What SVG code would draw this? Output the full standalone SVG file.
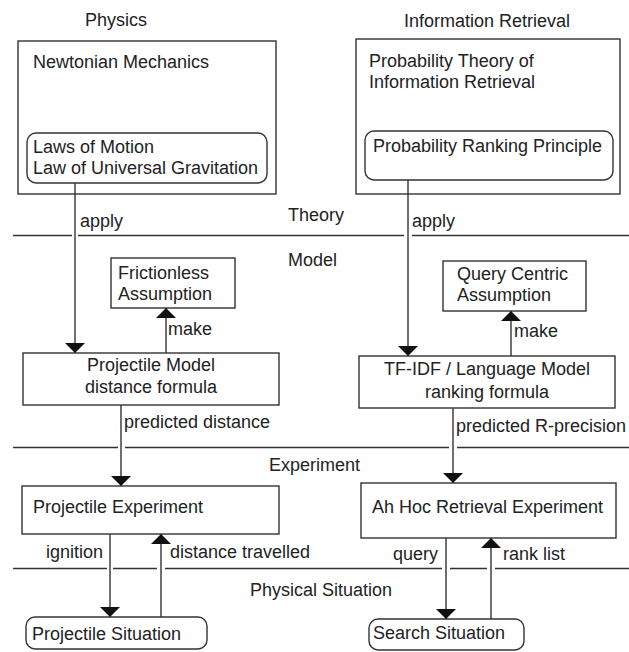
<svg xmlns="http://www.w3.org/2000/svg" width="629" height="652" viewBox="0 0 629 652">
<defs>
<style>
text{font-family:"Liberation Sans",Arial,sans-serif;font-size:18px;fill:#222}
.box{fill:#fff;stroke:#333;stroke-width:1.4}
.ln{fill:none;stroke:#333;stroke-width:1.4}
.sep{fill:none;stroke:#333;stroke-width:1.3}
.mid{text-anchor:middle}
</style>
<marker id="ah" viewBox="0 0 10 20" refX="10" refY="10" markerWidth="10" markerHeight="20" markerUnits="userSpaceOnUse" orient="auto">
<path d="M0,0 L10,10 L0,20 z" fill="#111"/>
</marker>
</defs>
<rect width="629" height="652" fill="#fff"/>

<g id="section-labels">
<text x="85" y="26">Physics</text>
<text x="404" y="27">Information Retrieval</text>
<text x="288" y="221">Theory</text>
<text x="288" y="266">Model</text>
<text x="269" y="471">Experiment</text>
<text x="250" y="596">Physical Situation</text>
</g>

<g id="separators">
<path class="sep" d="M13,235.5 H72 M78,235.5 H404 M412,235.5 H629"/>
<path class="sep" d="M13,447.5 H118 M125,447.5 H449 M457,447.5 H629"/>
<path class="sep" d="M13,568.5 H107 M113,568.5 H157 M165,568.5 H442 M450,568.5 H487 M495,568.5 H629"/>
</g>

<g id="newtonian">
<rect class="box" x="18" y="41" width="258" height="153"/>
<text x="33" y="68">Newtonian Mechanics</text>
</g>
<g id="laws">
<rect class="box" x="27" y="133" width="240" height="50" rx="9"/>
<text x="33" y="153">Laws of Motion</text>
<text x="33" y="174">Law of Universal Gravitation</text>
</g>

<g id="prob-theory">
<rect class="box" x="356" y="39" width="264" height="155"/>
<text x="369" y="67">Probability Theory of</text>
<text x="369" y="88">Information Retrieval</text>
</g>
<g id="prp">
<rect class="box" x="365" y="131" width="248" height="49" rx="9"/>
<text x="373" y="152">Probability Ranking Principle</text>
</g>

<g id="frictionless">
<rect class="box" x="111" y="258" width="124" height="50"/>
<text x="118" y="279">Frictionless</text>
<text x="118" y="300">Assumption</text>
</g>
<g id="projectile-model">
<rect class="box" x="23" y="353" width="256" height="52"/>
<text class="mid" x="151" y="371">Projectile Model</text>
<text class="mid" x="151" y="393">distance formula</text>
</g>

<g id="query-centric">
<rect class="box" x="443" y="261" width="143" height="50"/>
<text x="457" y="280">Query Centric</text>
<text x="457" y="301">Assumption</text>
</g>
<g id="tfidf">
<rect class="box" x="359" y="356" width="256" height="52"/>
<text class="mid" x="487" y="375">TF-IDF / Language Model</text>
<text class="mid" x="487" y="398">ranking formula</text>
</g>

<g id="projectile-experiment">
<rect class="box" x="22" y="486" width="257" height="48"/>
<text x="33" y="513">Projectile Experiment</text>
</g>
<g id="adhoc-experiment">
<rect class="box" x="361" y="483" width="255" height="55"/>
<text x="372" y="513">Ah Hoc Retrieval Experiment</text>
</g>

<g id="projectile-situation">
<rect class="box" x="26" y="617" width="181" height="32" rx="9"/>
<text x="32" y="640">Projectile Situation</text>
</g>
<g id="search-situation">
<rect class="box" x="369" y="619" width="155" height="31" rx="9"/>
<text x="373" y="639">Search Situation</text>
</g>

<g id="connectors">
<path class="ln" d="M75,183 V353" marker-end="url(#ah)"/>
<path class="ln" d="M408,180 V356" marker-end="url(#ah)"/>
<path class="ln" d="M166,353 V308" marker-end="url(#ah)"/>
<path class="ln" d="M511,356 V311" marker-end="url(#ah)"/>
<path class="ln" d="M121,405 V486" marker-end="url(#ah)"/>
<path class="ln" d="M453,408 V483" marker-end="url(#ah)"/>
<path class="ln" d="M110,534 V617" marker-end="url(#ah)"/>
<path class="ln" d="M161,617 V534" marker-end="url(#ah)"/>
<path class="ln" d="M446,538 V619" marker-end="url(#ah)"/>
<path class="ln" d="M491,619 V538" marker-end="url(#ah)"/>
</g>

<g id="connector-labels">
<text x="80" y="227">apply</text>
<text x="412" y="227">apply</text>
<text x="168" y="335">make</text>
<text x="514" y="337">make</text>
<text x="124" y="428">predicted distance</text>
<text x="456" y="432">predicted R-precision</text>
<text x="46" y="558">ignition</text>
<text x="170" y="558">distance travelled</text>
<text x="393" y="560">query</text>
<text x="503" y="560">rank list</text>
</g>
</svg>
